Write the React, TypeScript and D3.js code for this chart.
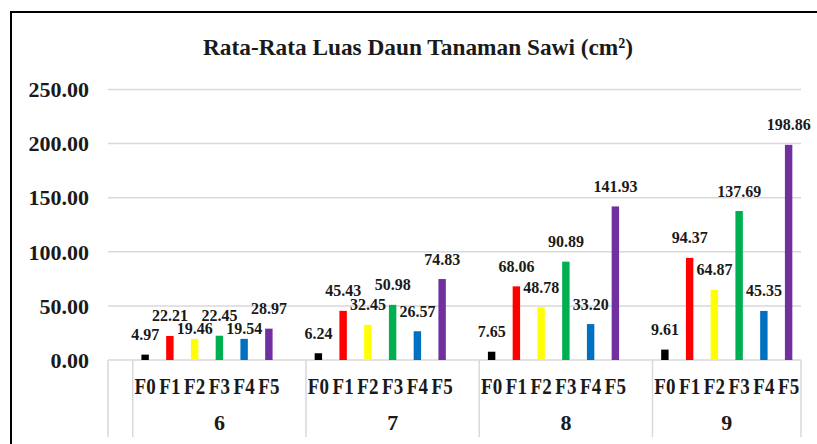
import React from 'react';
import * as d3 from 'd3';

const groups = ['6', '7', '8', '9'];
const treatments = ['F0', 'F1', 'F2', 'F3', 'F4', 'F5'];
const barColors = ['#000000', '#ff0000', '#ffff00', '#00b050', '#0070c0', '#7030a0'];

const week6 = [4.97, 22.21, 19.46, 22.45, 19.54, 28.97];
const week7 = [6.24, 45.43, 32.45, 50.98, 26.57, 74.83];
const week8 = [7.65, 68.06, 48.78, 90.89, 33.2, 141.93];
const week9 = [9.61, 94.37, 64.87, 137.69, 45.35, 198.86];
const yTicks = [0, 50, 100, 150, 200, 250];

const title = 'Rata-Rata Luas Daun Tanaman Sawi (cm²)';

const W = 817;
const H = 444;
const FONT = "'Liberation Serif', 'Times New Roman', serif";

const App: React.FC = () => {
  const values = [week6, week7, week8, week9];
  const left = 108;
  const right = 801;

  // every group gets a blank slot in front of it, like the sheet had
  const slots = groups.flatMap(g => [`${g}|`, ...treatments.map(t => `${g}|${t}`)]);
  const x = d3.scaleBand().domain(slots).range([left, right]);
  const y = d3.scaleLinear().domain([0, 250]).range([360, 89.5]);
  const barW = x.bandwidth() * 0.3;

  const groupStart = (i: number) => x(`${groups[i]}|F0`) as number;
  const groupEnd = (i: number) => (i < groups.length - 1 ? x(`${groups[i + 1]}|F0`) as number : right);
  const separators = [left, ...groups.map((_, i) => groupStart(i)), right];

  // labels that would sit on top of the previous one get pushed down
  const labelY = (vals: number[]) => {
    const out: number[] = [];
    vals.forEach((v, i) => {
      let ly = y(v) - 14.5;
      if (i > 0 && Math.abs(ly - out[i - 1]) < 11) ly = y(v) - 5;
      out.push(ly);
    });
    return out;
  };

  return (
    <svg width={W} height={H} style={{ position: 'absolute', left: 0, top: 0, background: '#fff' }}>
      <rect x={11} y={12} width={W + 20} height={H + 20} fill="#fff" stroke="#000" strokeWidth={2} />

      <text x={418} y={54.5} textAnchor="middle" fontFamily={FONT} fontWeight="bold" fontSize={24} fill="#1a1a1a"
        textLength={430} lengthAdjust="spacingAndGlyphs">
        {title}
      </text>

      {yTicks.map(t => (
        <g key={t}>
          <line x1={left} x2={right} y1={y(t)} y2={y(t)} stroke="#d9d9d9" strokeWidth={1.5} />
          <text x={89} y={y(t)} dy="0.35em" textAnchor="end" fontFamily={FONT} fontWeight="bold"
            fontSize={22} fill="#1a1a1a">{t.toFixed(2)}</text>
        </g>
      ))}

      {separators.map((sx, i) => (
        <line key={i} x1={sx} x2={sx} y1={360} y2={437} stroke="#d9d9d9" strokeWidth={1.5} />
      ))}

      {groups.map((g, gi) => {
        const ly = labelY(values[gi]);
        return (
          <g key={g}>
            {treatments.map((t, ti) => {
              const v = values[gi][ti];
              const cx = (x(`${g}|${t}`) as number) + x.bandwidth() / 2;
              return (
                <g key={t}>
                  <rect x={cx - barW / 2} y={y(v)} width={barW} height={y(0) - y(v)} fill={barColors[ti]} />
                  <text x={cx} y={ly[ti]} textAnchor="middle" fontFamily={FONT} fontWeight="bold"
                    fontSize={16} fill="#1a1a1a">{v.toFixed(2)}</text>
                  <text transform={`translate(${cx},393.5) scale(1,1.22)`} textAnchor="middle" fontFamily={FONT}
                    fontWeight="bold" fontSize={19} fill="#1a1a1a">{t}</text>
                </g>
              );
            })}
            <text x={(groupStart(gi) + groupEnd(gi)) / 2} y={430} textAnchor="middle"
              fontFamily={FONT} fontWeight="bold" fontSize={22} fill="#1a1a1a">{g}</text>
          </g>
        );
      })}
    </svg>
  );
};

export default App;
